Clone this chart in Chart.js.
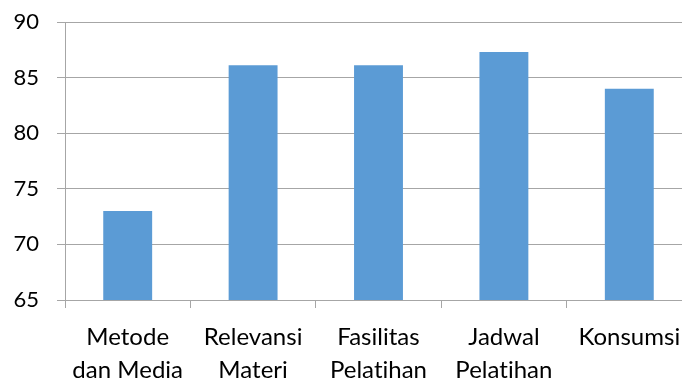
<!DOCTYPE html>
<html>
<head>
<meta charset="utf-8">
<script src="https://cdn.jsdelivr.net/npm/chart.js@4"></script>
<style>
  html, body { margin: 0; padding: 0; background: #fff; overflow: hidden; }
  #wrap { width: 700px; height: 378px; }
</style>
</head>
<body>
<div id="wrap"><canvas id="bar-chart"></canvas></div>
<script>
// categories (multi-line labels) and values
const categories = [
  ["Metode", "dan Media"],
  ["Relevansi", "Materi"],
  ["Fasilitas", "Pelatihan"],
  ["Jadwal", "Pelatihan"],
  ["Konsumsi"]
];
const scores = [73.0, 86.1, 86.1, 87.3, 84.0];
const yTicks = [65, 70, 75, 80, 85, 90];

const gridGray = "#a6a6a6";
const fontFamily = "Lato, 'Open Sans', sans-serif";

// tiny letter spacing so Lato doesn't join "ti" into a ligature
const noLigatures = {
  id: "noLigatures",
  beforeDraw(chart) {
    if ("letterSpacing" in chart.ctx) chart.ctx.letterSpacing = "0.01px";
  },
};

let ctx = document.getElementById("bar-chart");
new Chart(ctx, {
  type: "bar",
  data: {
    labels: categories,
    datasets: [
      {
        data: scores,
        backgroundColor: "#5b9bd5", // office blue
        borderWidth: 0,
        categoryPercentage: 1,
        barPercentage: 0.39,
      },
    ],
  },
  plugins: [noLigatures],
  options: {
    responsive: true,
    maintainAspectRatio: false,
    animation: false,
    layout: { padding: { top: 22, right: 8, left: 0, bottom: 0 } },
    plugins: { legend: { display: false }, tooltip: { enabled: false } },
    scales: {
      x: {
        offset: true,
        grid: { display: true, drawOnChartArea: false, color: gridGray, tickLength: 8 },
        border: { color: gridGray },
        ticks: {
          color: "#000",
          maxRotation: 0,
          autoSkip: false,
          padding: 13,
          font: { family: fontFamily, size: 24, lineHeight: 1.375 },
        },
        afterFit: (scale) => {
          scale.height = 78;
          scale.paddingLeft = 0;
          scale.paddingRight = 0;
        },
      },
      y: {
        min: yTicks[0],
        max: yTicks[yTicks.length - 1],
        afterBuildTicks: (scale) => {
          scale.ticks = yTicks.map((v) => ({ value: v }));
        },
        grid: { color: gridGray, tickLength: 8 },
        border: { color: gridGray },
        ticks: {
          color: "#000",
          padding: 18,
          font: { family: fontFamily, size: 22 },
        },
        afterFit: (scale) => {
          scale.width = 65;
          scale.paddingTop = 0;
          scale.paddingBottom = 0;
        },
      },
    },
  },
});
</script>
</body>
</html>
